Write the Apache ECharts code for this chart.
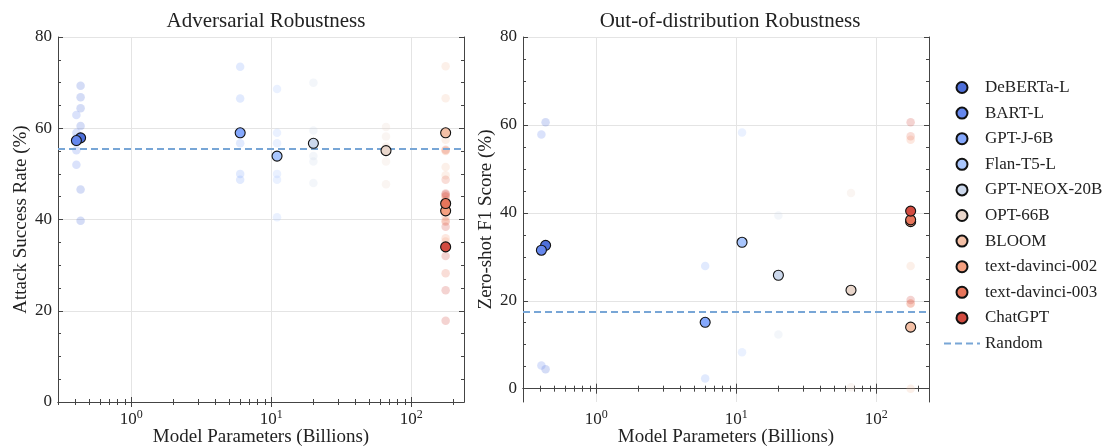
<!DOCTYPE html>
<html><head><meta charset="utf-8">
<script src="https://cdn.jsdelivr.net/npm/echarts@6/dist/echarts.min.js"></script>
<style>html,body{margin:0;padding:0;background:#fff}#c{width:1102px;height:448px}</style>
</head><body><div id="c"></div>
<script>
// ---------- data ----------
const models = ['DeBERTa-L','BART-L','GPT-J-6B','Flan-T5-L','GPT-NEOX-20B','OPT-66B','BLOOM','text-davinci-002','text-davinci-003','ChatGPT'];
const params = [0.435, 0.406, 6, 11, 20, 66, 176, 176, 176, 176];
const colors = ['#4e6fd9','#6688ee','#85a8fc','#a9c6fd','#ccd8ec','#e9d6cb','#f4c0a6','#f5a080','#e7755b','#d24b40'];

const advMean = [57.9, 57.3, 59.0, 53.9, 56.7, 55.1, 59.0, 41.9, 43.5, 34.0];
const advTasks = [
  [69.3, 66.8, 64.4, 60.5, 46.6, 39.7],
  [62.9, 59.0, 57.8, 57.0, 55.2, 52.0],
  [73.5, 66.5, 58.6, 56.7, 50.0, 48.7],
  [68.6, 59.0, 56.7, 50.0, 48.7, 40.5],
  [70.0, 59.5, 56.1, 53.9, 52.7, 48.0],
  [60.3, 58.2, 56.0, 55.6, 52.7, 47.7],
  [73.6, 66.6, 57.5, 55.1, 51.5, 49.7],
  [55.0, 45.0, 40.6, 39.7, 35.9, 35.2],
  [55.3, 48.7, 45.1, 44.2, 39.5, 28.2],
  [45.7, 45.5, 38.4, 32.0, 24.5, 17.8]
];
const advRandom = 55.6;

const oodMean = [32.6, 31.5, 15.1, 33.3, 25.8, 22.4, 14.0, 38.0, 38.4, 40.4];
const oodTasks = [
  [60.6, 4.4],
  [57.8, 5.3],
  [27.9, 2.3],
  [58.3, 8.3],
  [39.4, 12.3],
  [44.5, 0.3],
  [27.9, 0.0],
  [56.6, 19.4],
  [57.4, 19.4],
  [60.6, 20.2]
];
const oodRandom = 17.4;

const xMajor = [1, 10, 100];
const xMinor = [0.3,0.4,0.5,0.6,0.7,0.8,0.9,2,3,4,5,6,7,8,9,20,30,40,50,60,70,80,90,200];
const yMajor = [0, 20, 40, 60, 80];
const yMinor = [5,10,15,25,30,35,45,50,55,65,70,75];

// ---------- chart ----------
const F = "'Liberation Serif','DejaVu Serif',serif";
const AX = '#444';
const chart = echarts.init(document.getElementById('c'), null, {renderer:'canvas'});

function hexA(h, a){const r=parseInt(h.slice(1,3),16),g=parseInt(h.slice(3,5),16),b=parseInt(h.slice(5,7),16);return `rgba(${r},${g},${b},${a})`;}

const grids = [
  {left:58, top:37, width:406, height:365, containLabel:false, outerBoundsMode:'none'},
  {left:523, top:37, width:406, height:365, containLabel:false, outerBoundsMode:'none'}
];
const yRanges = [[0,80],[-3.03,80]];
const yNames = ['Attack Success Rate (%)','Zero-shot F1 Score (%)'];

const xAxis = [], yAxis = [];
grids.forEach((g, gi) => {
  const xb = {type:'log', logBase:10, gridIndex:gi, min:0.3, max:238};
  xAxis.push(
    {...xb, position:'bottom', name:'Model Parameters (Billions)', nameLocation:'middle', nameGap:26, nameMoveOverlap:false,
      nameTextStyle:{fontFamily:F, fontSize:19, color:'#222'},
      axisLine:{show:true, lineStyle:{color:AX, width:1}},
      axisTick:{show:true, inside:true, length:5, customValues:xMajor, lineStyle:{color:AX}},
      axisLabel:{customValues:xMajor, margin:7, fontFamily:F, fontSize:17, color:'#222',
        formatter: v => '10{s|' + Math.round(Math.log10(v)) + '}',
        rich:{s:{fontFamily:F, fontSize:12, color:'#222', padding:[0,0,9,0]}}},
      splitLine:{show:true, lineStyle:{color:'#e4e4e4', width:1}}},
    {...xb, position:'bottom', axisLine:{show:false}, axisLabel:{show:false}, splitLine:{show:false},
      axisTick:{show:true, inside:true, length:3, customValues:xMinor, lineStyle:{color:AX}}},
    {...xb, position:'top', axisLine:{show:true, lineStyle:{color:AX, width:1}}, axisLabel:{show:false}, splitLine:{show:false},
      axisTick:{show:true, inside:true, length:5, customValues:xMajor, lineStyle:{color:AX}}},
    {...xb, position:'top', axisLine:{show:false}, axisLabel:{show:false}, splitLine:{show:false},
      axisTick:{show:true, inside:true, length:3, customValues:xMinor, lineStyle:{color:AX}}}
  );
  const yb = {type:'value', gridIndex:gi, min:yRanges[gi][0], max:yRanges[gi][1]};
  yAxis.push(
    {...yb, position:'left', name:yNames[gi], nameLocation:'middle', nameGap:27, nameMoveOverlap:false,
      nameTextStyle:{fontFamily:F, fontSize:19, color:'#222'},
      axisLine:{show:true, lineStyle:{color:AX, width:1}},
      axisTick:{show:true, inside:true, length:5, customValues:yMajor, lineStyle:{color:AX}},
      axisLabel:{customValues:yMajor, margin:6, fontFamily:F, fontSize:17, color:'#222'},
      splitLine:{show:true, lineStyle:{color:'#e4e4e4', width:1}}},
    {...yb, position:'left', axisLine:{show:false}, axisLabel:{show:false}, splitLine:{show:false},
      axisTick:{show:true, inside:true, length:3, customValues:yMinor, lineStyle:{color:AX}}},
    {...yb, position:'right', axisLine:{show:true, lineStyle:{color:AX, width:1}}, axisLabel:{show:false}, splitLine:{show:false},
      axisTick:{show:true, inside:true, length:5, customValues:yMajor, lineStyle:{color:AX}}},
    {...yb, position:'right', axisLine:{show:false}, axisLabel:{show:false}, splitLine:{show:false},
      axisTick:{show:true, inside:true, length:3, customValues:yMinor, lineStyle:{color:AX}}}
  );
});

const series = [];
const panels = [
  {mean:advMean, tasks:advTasks, random:advRandom},
  {mean:oodMean, tasks:oodTasks, random:oodRandom}
];
panels.forEach((p, gi) => {
  const xi = gi*4, yi = gi*4;
  models.forEach((m, i) => {
    series.push({type:'scatter', name:'tasks-'+gi+'-'+i, xAxisIndex:xi, yAxisIndex:yi, silent:true, z:2,
      symbolSize:8.5, itemStyle:{color:hexA(colors[i],0.3)},
      data:p.tasks[i].map(v => [params[i], v])});
  });
  series.push({type:'line', name:'Random', xAxisIndex:xi, yAxisIndex:yi, data:[], symbol:'none', showSymbol:false, z:3,
    color:'#78a6d6', lineStyle:{type:[7,4], color:'#78a6d6', width:1.8},
    markLine:{silent:true, symbol:'none', label:{show:false},
      lineStyle:{type:[7,4], color:'#78a6d6', width:1.8},
      data:[{yAxis:p.random}]}});
  models.forEach((m, i) => {
    series.push({type:'scatter', name:m, xAxisIndex:xi, yAxisIndex:yi, z:5,
      symbolSize:10, itemStyle:{color:colors[i], borderColor:'#111', borderWidth:1.1, opacity:1},
      data:[[params[i], p.mean[i]]]});
  });
});

chart.setOption({
  animation:false,
  backgroundColor:'#fff',
  title:[
    {text:'Adversarial Robustness', left:261, top:6, textAlign:'center', textStyle:{fontFamily:F, fontSize:21, fontWeight:'normal', color:'#222'}},
    {text:'Out-of-distribution Robustness', left:725, top:6, textAlign:'center', textStyle:{fontFamily:F, fontSize:21, fontWeight:'normal', color:'#222'}}
  ],
  grid:grids,
  xAxis, yAxis,
  legend:{orient:'vertical', left:938, top:74, itemWidth:36, itemHeight:11, itemGap:8.6,
    textStyle:{fontFamily:F, fontSize:17, color:'#222'},
    data:[...models.map(m => ({name:m, icon:'circle'})), {name:'Random', itemStyle:{opacity:0}}]},
  series
});
</script>
</body></html>
